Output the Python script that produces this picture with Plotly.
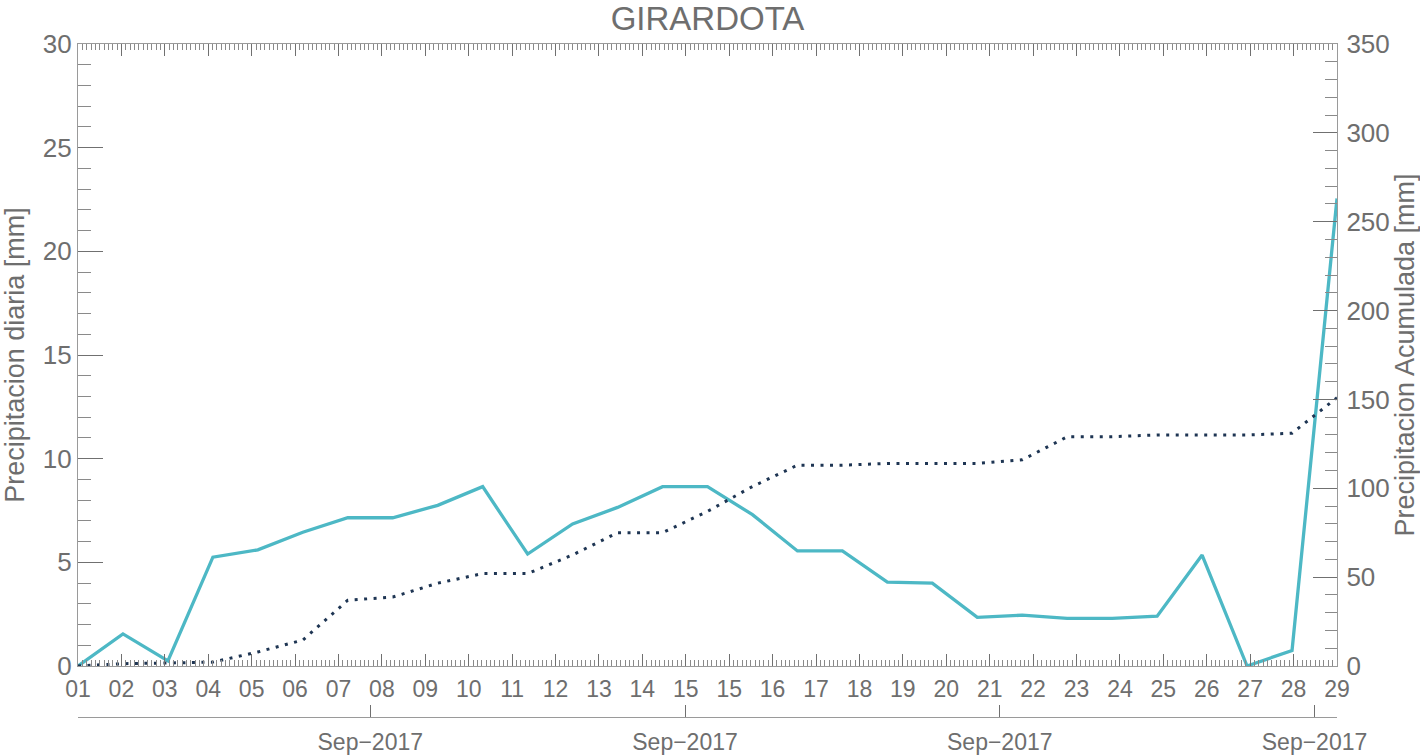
import plotly.graph_objects as go

# ---- data ----
days = list(range(1, 30))  # 1..29 September 2017
daily_mm = [0.0, 1.55, 0.25, 5.25, 5.6, 6.45, 7.15, 7.15, 7.75, 8.65,
            5.4, 6.85, 7.65, 8.65, 8.65, 7.3, 5.55, 5.55, 4.05, 4.0,
            2.35, 2.45, 2.3, 2.3, 2.4, 5.35, 0.0, 0.75, 22.55]
accum_mm = [0.0, 1.3, 1.7, 2.2, 7.9, 14.6, 37.0, 38.8, 46.6, 52.0,
            52.0, 62.5, 75.0, 75.0, 87.0, 101.0, 113.0, 113.0, 114.0, 114.0,
            114.0, 116.0, 129.0, 129.0, 130.0, 130.0, 130.0, 131.0, 151.0]

day_tick_labels = ["01", "02", "03", "04", "05", "06", "07", "08", "09", "10",
                   "11", "12", "13", "14", "15", "15", "16", "17", "18", "19",
                   "20", "21", "22", "23", "24", "25", "26", "27", "28", "29"]
month_tick_days = [7.5, 14.5, 21.5, 28.5]
month_tick_labels = ["Sep\u22122017"] * 4

# ---- axis tick positions (evenly spaced over the date range) ----
x0, x1 = days[0], days[-1]
n_int = len(day_tick_labels) - 1
step = (x1 - x0) / n_int
major_x = [x0 + k * step for k in range(n_int + 1)]
minor_x = [x0 + k * step / 10 for k in range(n_int * 10 + 1)]

FONT = "Liberation Sans, Arial, Helvetica, sans-serif"
TXT = "#6e6e6e"
LINE = "#9a9a9a"
TICK = "#707070"
TEAL = "#4db8c5"
NAVY = "#1e3553"

fig = go.Figure()
fig.add_trace(go.Scatter(x=days, y=daily_mm, mode="lines",
                         line=dict(color=TEAL, width=3.3),
                         name="Precipitacion diaria", xaxis="x", yaxis="y"))
fig.add_trace(go.Scatter(x=days, y=accum_mm, mode="lines",
                         line=dict(color=NAVY, width=3, dash="3px,6.5px"),
                         name="Precipitacion Acumulada", xaxis="x", yaxis="y2"))
# empty trace to activate the month axis
fig.add_trace(go.Scatter(x=[], y=[], xaxis="x2", yaxis="y", showlegend=False,
                         hoverinfo="skip"))

H, W = 755, 1420
mt, mb, ml, mr = 44, 38, 78, 83
plot_h = H - mt - mb
ydom0 = (717 - 666) / plot_h

fig.update_layout(
    width=W, height=H,
    margin=dict(l=ml, r=mr, t=mt, b=mb, autoexpand=False),
    paper_bgcolor="white", plot_bgcolor="white",
    showlegend=False,
    font=dict(family=FONT, color=TXT),
    title=dict(text="GIRARDOTA", x=0.5, xref="paper", xanchor="center",
               y=1 - 18.5 / H, yref="container", yanchor="middle",
               font=dict(size=33, color=TXT, family=FONT)),
    xaxis=dict(
        range=[x0, x1], tickmode="array", tickvals=major_x, ticktext=day_tick_labels,
        ticks="inside", ticklen=12, tickwidth=1.2, tickcolor=TICK,
        showline=True, linecolor=LINE, linewidth=1.4, mirror="ticks",
        showgrid=False, zeroline=False,
        tickfont=dict(size=23, color=TXT, family=FONT),
        ticklabelstandoff=2,
        minor=dict(tickmode="array", tickvals=minor_x, ticks="inside",
                   ticklen=6, tickwidth=1, tickcolor="#8a8a8a", showgrid=False),
        anchor="y",
    ),
    xaxis2=dict(
        range=[x0, x1], overlaying="x", anchor="free", position=0, side="bottom",
        tickmode="array", tickvals=month_tick_days, ticktext=month_tick_labels,
        ticks="inside", ticklen=12, tickwidth=1.2, tickcolor=TICK,
        showline=True, linecolor=LINE, linewidth=1.4,
        showgrid=False, zeroline=False,
        tickfont=dict(size=23, color=TXT, family=FONT),
        ticklabelstandoff=4,
    ),
    yaxis=dict(
        domain=[ydom0, 1], range=[0, 30], tickmode="linear", tick0=0, dtick=5,
        ticks="inside", ticklen=25, tickwidth=1.2, tickcolor=TICK,
        showline=True, linecolor=LINE, linewidth=1.4,
        showgrid=False, zeroline=False,
        tickfont=dict(size=26, color=TXT, family=FONT),
        ticklabelstandoff=0,
        minor=dict(dtick=1, ticks="inside", ticklen=13, tickwidth=1,
                   tickcolor="#8a8a8a", showgrid=False),
        title=dict(text="Precipitacion diaria [mm]", standoff=19,
                   font=dict(size=27, color=TXT, family=FONT)),
    ),
    yaxis2=dict(
        domain=[ydom0, 1], range=[0, 350], overlaying="y", side="right", anchor="x",
        tickmode="linear", tick0=0, dtick=50,
        ticks="inside", ticklen=24, tickwidth=1.2, tickcolor=TICK,
        showline=True, linecolor=LINE, linewidth=1.4,
        showgrid=False, zeroline=False,
        tickfont=dict(size=26, color=TXT, family=FONT),
        ticklabelstandoff=3,
        minor=dict(dtick=10, ticks="inside", ticklen=12, tickwidth=1,
                   tickcolor="#8a8a8a", showgrid=False),
        title=dict(text="Precipitacion Acumulada [mm]", standoff=10,
                   font=dict(size=27, color=TXT, family=FONT)),
    ),
)

fig.write_html("out.html",
               config={"displayModeBar": False},
               post_script="document.body.style.margin='0';"
                           "document.body.style.overflow='hidden';")
